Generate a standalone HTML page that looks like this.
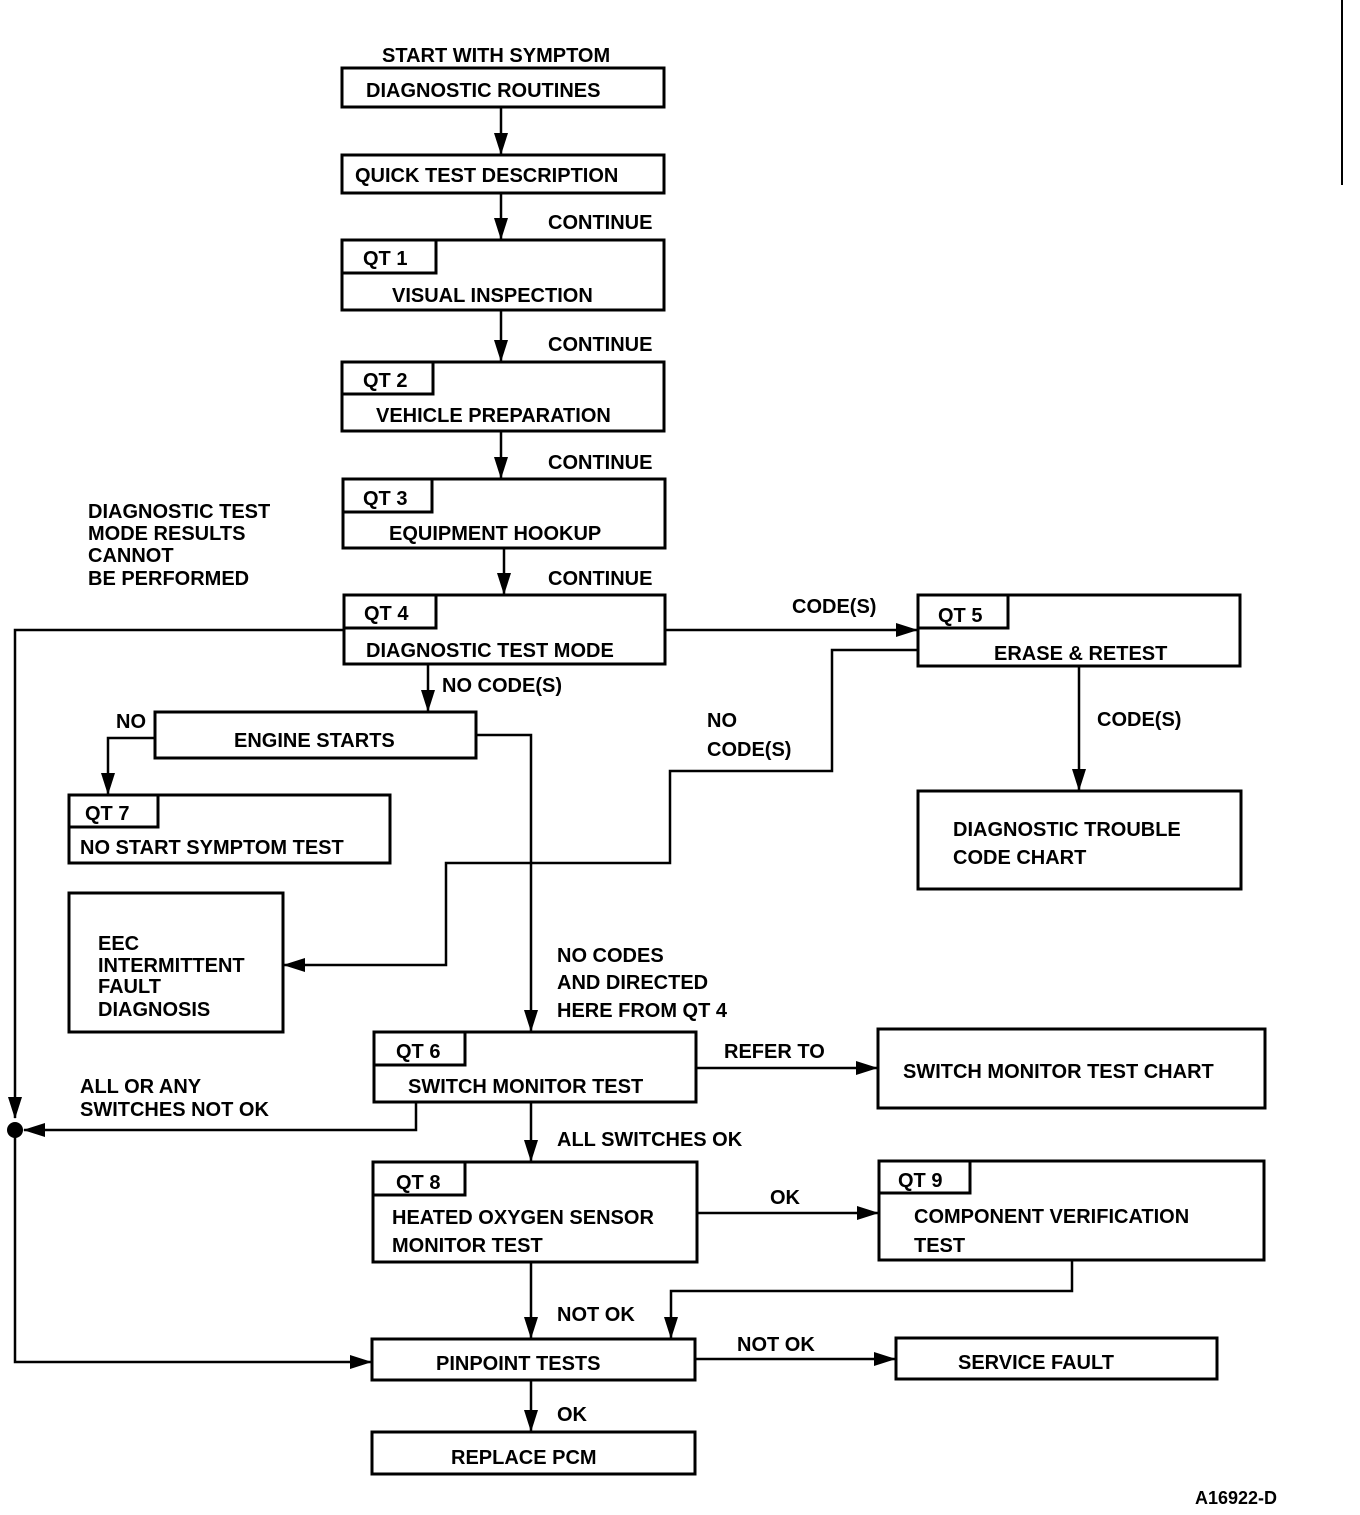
<!DOCTYPE html>
<html><head><meta charset="utf-8"><style>
html,body{margin:0;padding:0;background:#fff;}
svg text{font-family:"Liberation Sans",Arial,sans-serif;font-weight:bold;font-size:20px;fill:#000;}
</style></head><body>
<svg width="1360" height="1510" viewBox="0 0 1360 1510" xmlns="http://www.w3.org/2000/svg">
<defs><marker id="a" markerWidth="10" markerHeight="10" refX="9" refY="5" orient="auto" markerUnits="userSpaceOnUse" viewBox="0 0 10 10"><path d="M0,0 L10,5 L0,10 z" fill="#000"/></marker>
<marker id="b" markerWidth="22" markerHeight="14" refX="21" refY="7" orient="auto" markerUnits="userSpaceOnUse" viewBox="0 0 22 14"><path d="M0,0 L22,7 L0,14 z" fill="#000"/></marker></defs>
<g fill="none" stroke="#000" stroke-width="3">
<rect x="342" y="68" width="322" height="39"/>
<rect x="342" y="155" width="322" height="38"/>
<rect x="342" y="240" width="322" height="70"/><rect x="342" y="240" width="94" height="33"/>
<rect x="342" y="362" width="322" height="69"/><rect x="342" y="362" width="91" height="32"/>
<rect x="343" y="479" width="322" height="69"/><rect x="343" y="479" width="89" height="33"/>
<rect x="344" y="595" width="321" height="69"/><rect x="344" y="595" width="92" height="33"/>
<rect x="918" y="595" width="322" height="71"/><rect x="918" y="595" width="90" height="33"/>
<rect x="155" y="712" width="321" height="46"/>
<rect x="69" y="795" width="321" height="68"/><rect x="69" y="795" width="89" height="32"/>
<rect x="69" y="893" width="214" height="139"/>
<rect x="918" y="791" width="323" height="98"/>
<rect x="374" y="1032" width="322" height="70"/><rect x="374" y="1032" width="91" height="33"/>
<rect x="878" y="1029" width="387" height="79"/>
<rect x="373" y="1162" width="324" height="100"/><rect x="373" y="1162" width="92" height="33"/>
<rect x="879" y="1161" width="385" height="99"/><rect x="879" y="1161" width="91" height="32"/>
<rect x="372" y="1339" width="323" height="41"/>
<rect x="896" y="1338" width="321" height="41"/>
<rect x="372" y="1432" width="323" height="42"/>
</g>
<g fill="none" stroke="#000" stroke-width="2.5">
<line x1="501" y1="107" x2="501" y2="154" marker-end="url(#b)"/>
<line x1="501" y1="193" x2="501" y2="239" marker-end="url(#b)"/>
<line x1="501" y1="310" x2="501" y2="361" marker-end="url(#b)"/>
<line x1="501" y1="431" x2="501" y2="478" marker-end="url(#b)"/>
<line x1="504" y1="548" x2="504" y2="594" marker-end="url(#b)"/>
<line x1="665" y1="630" x2="917" y2="630" marker-end="url(#b)"/>
<polyline points="344,630 15,630 15,1118" marker-end="url(#b)"/>
<polyline points="15,1130 15,1362 371,1362" marker-end="url(#b)"/>
<line x1="428" y1="664" x2="428" y2="711" marker-end="url(#b)"/>
<polyline points="155,738 108,738 108,794" marker-end="url(#b)"/>
<polyline points="476,735 531,735 531,1031" marker-end="url(#b)"/>
<polyline points="918,650 832,650 832,771 670,771 670,863 446,863 446,965 284,965" marker-end="url(#b)"/>
<line x1="1079" y1="666" x2="1079" y2="790" marker-end="url(#b)"/>
<line x1="696" y1="1068" x2="877" y2="1068" marker-end="url(#b)"/>
<polyline points="416,1102 416,1130 24,1130" marker-end="url(#b)"/>
<line x1="531" y1="1102" x2="531" y2="1161" marker-end="url(#b)"/>
<line x1="697" y1="1213" x2="878" y2="1213" marker-end="url(#b)"/>
<line x1="531" y1="1262" x2="531" y2="1338" marker-end="url(#b)"/>
<polyline points="1072,1260 1072,1291 671,1291 671,1338" marker-end="url(#b)"/>
<line x1="695" y1="1359" x2="895" y2="1359" marker-end="url(#b)"/>
<line x1="531" y1="1380" x2="531" y2="1431" marker-end="url(#b)"/>
<line x1="1342" y1="0" x2="1342" y2="185" stroke-width="2"/>
</g>
<circle cx="15" cy="1130" r="8" fill="#000"/>
<g>
<text x="382" y="62">START WITH SYMPTOM</text>
<text x="366" y="97">DIAGNOSTIC ROUTINES</text>
<text x="355" y="182">QUICK TEST DESCRIPTION</text>
<text x="548" y="229">CONTINUE</text>
<text x="363" y="265">QT 1</text>
<text x="392" y="302">VISUAL INSPECTION</text>
<text x="548" y="351">CONTINUE</text>
<text x="363" y="387">QT 2</text>
<text x="376" y="422">VEHICLE PREPARATION</text>
<text x="548" y="469">CONTINUE</text>
<text x="363" y="505">QT 3</text>
<text x="389" y="540">EQUIPMENT HOOKUP</text>
<text x="548" y="585">CONTINUE</text>
<text x="88" y="518">DIAGNOSTIC TEST</text>
<text x="88" y="540">MODE RESULTS</text>
<text x="88" y="562">CANNOT</text>
<text x="88" y="585">BE PERFORMED</text>
<text x="364" y="620">QT 4</text>
<text x="366" y="657">DIAGNOSTIC TEST MODE</text>
<text x="792" y="613">CODE(S)</text>
<text x="938" y="622">QT 5</text>
<text x="994" y="660">ERASE &amp; RETEST</text>
<text x="442" y="692">NO CODE(S)</text>
<text x="116" y="728">NO</text>
<text x="234" y="747">ENGINE STARTS</text>
<text x="707" y="727">NO</text>
<text x="707" y="756">CODE(S)</text>
<text x="1097" y="726">CODE(S)</text>
<text x="85" y="820">QT 7</text>
<text x="80" y="854">NO START SYMPTOM TEST</text>
<text x="953" y="836">DIAGNOSTIC TROUBLE</text>
<text x="953" y="864">CODE CHART</text>
<text x="98" y="950">EEC</text>
<text x="98" y="972">INTERMITTENT</text>
<text x="98" y="993">FAULT</text>
<text x="98" y="1016">DIAGNOSIS</text>
<text x="557" y="962">NO CODES</text>
<text x="557" y="989">AND DIRECTED</text>
<text x="557" y="1017">HERE FROM QT 4</text>
<text x="396" y="1058">QT 6</text>
<text x="408" y="1093">SWITCH MONITOR TEST</text>
<text x="724" y="1058">REFER TO</text>
<text x="903" y="1078">SWITCH MONITOR TEST CHART</text>
<text x="80" y="1093">ALL OR ANY</text>
<text x="80" y="1116">SWITCHES NOT OK</text>
<text x="557" y="1146">ALL SWITCHES OK</text>
<text x="396" y="1189">QT 8</text>
<text x="392" y="1224">HEATED OXYGEN SENSOR</text>
<text x="392" y="1252">MONITOR TEST</text>
<text x="770" y="1204">OK</text>
<text x="898" y="1187">QT 9</text>
<text x="914" y="1223">COMPONENT VERIFICATION</text>
<text x="914" y="1252">TEST</text>
<text x="557" y="1321">NOT OK</text>
<text x="737" y="1351">NOT OK</text>
<text x="436" y="1370">PINPOINT TESTS</text>
<text x="958" y="1369">SERVICE FAULT</text>
<text x="557" y="1421">OK</text>
<text x="451" y="1464">REPLACE PCM</text>
<text x="1195" y="1504" style="font-size:18px">A16922-D</text>
</g>
</svg>
</body></html>
